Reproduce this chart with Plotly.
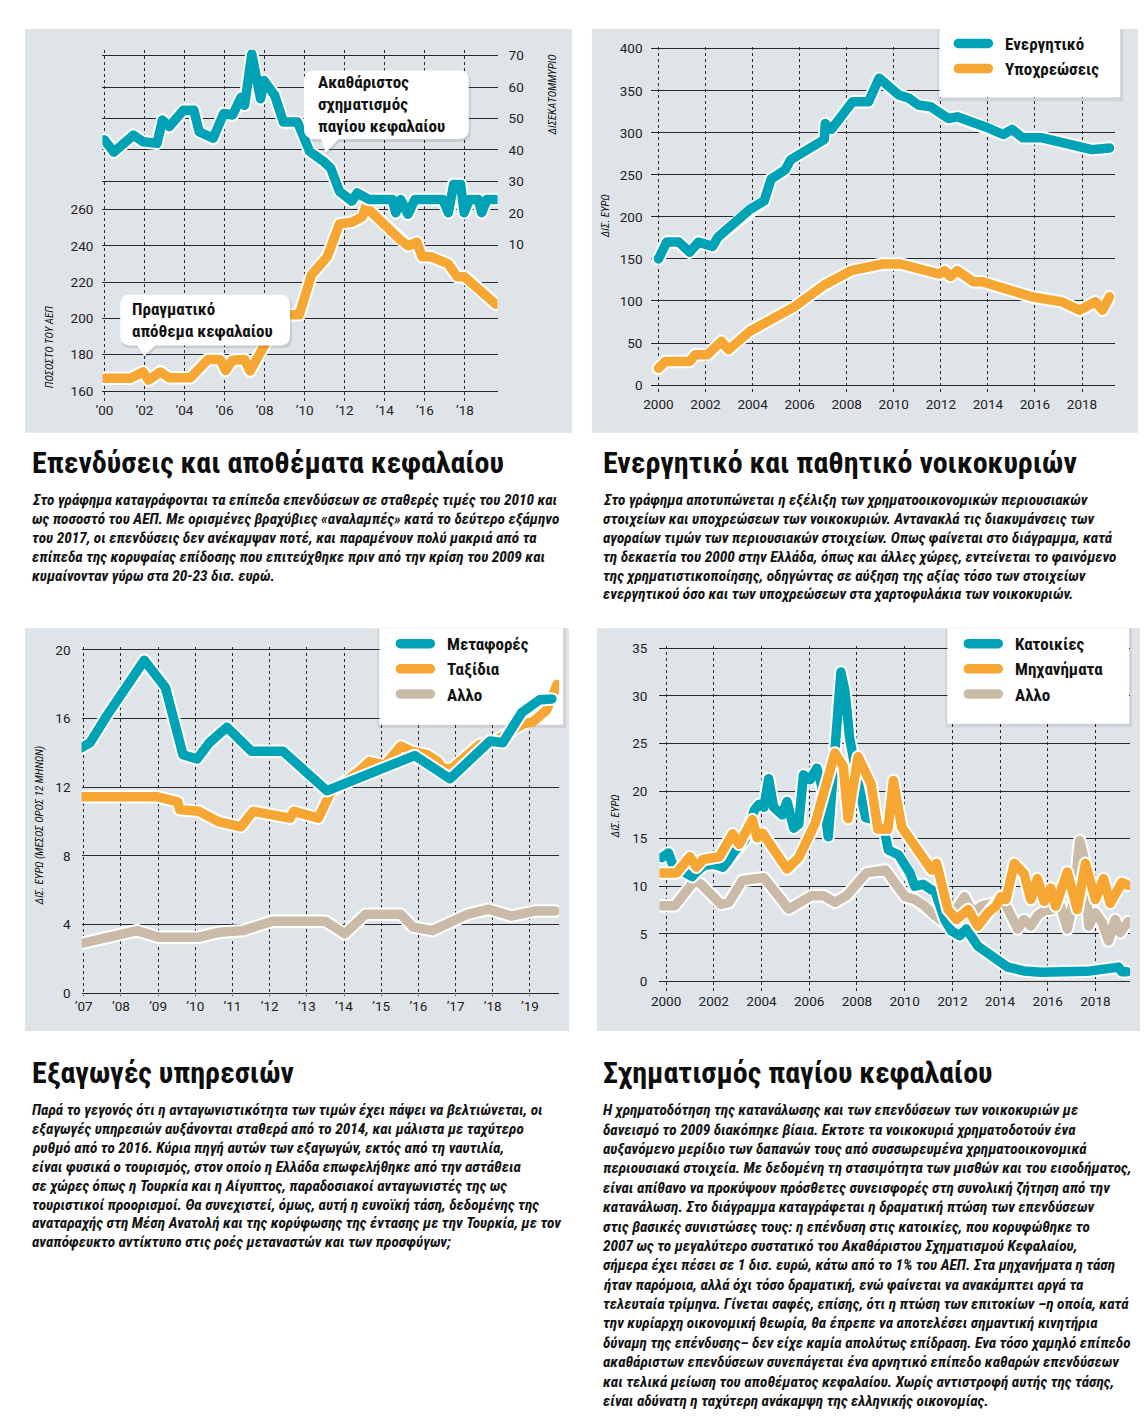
import plotly.graph_objects as go

# the page keeps the browser's 8px body margin, so the figure is 16px smaller
# than the window and all reference pixel positions are shifted by OFF
W, H = 1148, 1421
OFF = 8
FW, FH = W - 2 * OFF, H - 2 * OFF

# ---- chart 1: investment (bn, right axis) and capital stock (% of GDP, left axis)
inv_year = [2000.0, 2000.47, 2001.45, 2001.93, 2002.63, 2002.9, 2003.24, 2003.94, 2004.47, 2004.73,
            2005.43, 2005.96, 2006.4, 2006.83, 2007.0, 2007.36, 2007.8, 2007.97, 2008.5, 2008.94,
            2009.64, 2009.82, 2010.25, 2010.95, 2011.3, 2011.74, 2012.36, 2012.62, 2013.23, 2014.37,
            2014.55, 2014.8, 2015.16, 2015.5, 2016.9, 2017.17, 2017.44, 2017.79, 2017.96, 2018.23,
            2018.67, 2018.84, 2019.1, 2019.54]
inv_val = [43.2, 39.3, 44.7, 42.6, 42.1, 49.5, 47.4, 52.6, 52.6, 45.8,
           43.7, 51.6, 51.1, 56.8, 54.2, 70.5, 56.3, 62.1, 57.4, 48.9,
           48.9, 45.8, 39.5, 36.3, 34.2, 26.8, 23.7, 26.3, 24.2, 24.2,
           20.0, 24.2, 19.5, 24.2, 24.2, 20.0, 29.0, 29.0, 20.0, 24.2,
           24.2, 20.0, 24.2, 24.2]
cap_year = [2000.0, 2001.3, 2001.93, 2002.2, 2002.8, 2003.24, 2004.3, 2005.17, 2005.78, 2006.05,
            2006.4, 2007.0, 2007.27, 2007.97, 2008.85, 2009.73, 2010.34, 2011.13, 2011.74, 2012.36,
            2012.88, 2013.05, 2013.76, 2014.55, 2014.8, 2015.16, 2015.6, 2015.86, 2016.3, 2017.17,
            2017.61, 2017.96, 2018.31, 2019.54]
cap_val = [167, 167, 170.5, 166, 170.5, 167.3, 167.3, 177.4, 177.4, 171.3,
           177, 177.4, 171, 185.4, 202, 202, 224, 234, 252, 253,
           256, 261.5, 254, 244.3, 243, 240, 242, 234, 234, 230,
           223, 223, 220, 207.8]
c1_ticks = list(range(2000, 2019, 2))
c1_labels = ["’00", "’02", "’04", "’06", "’08", "’10", "’12", "’14", "’16", "’18"]
c1_left_ticks = [160, 180, 200, 220, 240, 260]
c1_right_ticks = [10, 20, 30, 40, 50, 60, 70]

# ---- chart 2: household assets / liabilities (bn euro)
asset_year = [2000.0, 2000.35, 2000.87, 2001.33, 2001.7, 2002.23, 2002.3, 2002.53, 2003.89, 2004.49,
              2004.79, 2005.39, 2005.62, 2007.05, 2007.09, 2007.35, 2008.25, 2008.93, 2009.38, 2010.21,
              2010.66, 2011.04, 2011.57, 2012.32, 2012.7, 2013.9, 2014.65, 2015.03, 2015.48, 2016.31,
              2017.06, 2017.82, 2018.42, 2019.17]
asset_val = [150, 170, 170, 158, 170, 168, 165, 176, 209, 219,
             245, 256, 268, 292, 311, 304, 337, 337, 365, 345,
             341, 333, 331, 317, 319, 307, 298, 304, 294, 294,
             290, 286, 280, 282]
liab_year = [2000.0, 2000.3, 2001.33, 2001.56, 2002.08, 2002.68, 2002.98, 2003.89, 2005.77, 2007.05,
             2008.18, 2009.53, 2010.29, 2011.94, 2012.17, 2012.4, 2012.7, 2013.37, 2013.75, 2015.1,
             2015.86, 2017.14, 2017.89, 2018.57, 2018.87, 2019.17]
liab_val = [20, 28, 28, 36, 36, 52, 42, 64, 93, 119,
            136, 144, 144, 132, 136, 129, 136, 123, 123, 111,
            105, 99, 89, 99, 89, 105]
c2_ticks = list(range(2000, 2019, 2))
c2_yticks = list(range(0, 401, 50))

# ---- chart 3: services exports (bn euro, 12-month average)
transport_year = [2006.93, 2007.17, 2007.6, 2008.07, 2008.63, 2009.2, 2009.67, 2010.05, 2010.38, 2010.85,
                  2011.51, 2012.36, 2012.98, 2013.31, 2013.54, 2015.9, 2016.85, 2017.93, 2018.27, 2018.78,
                  2019.26, 2019.59]
transport_val = [14.3, 14.6, 16.1, 17.7, 19.4, 17.8, 13.9, 13.65, 14.6, 15.5,
                 14.1, 14.1, 12.9, 12.3, 11.8, 13.85, 12.5, 14.7, 14.6, 16.35,
                 17.1, 17.15]
travel_year = [2006.93, 2008.96, 2009.53, 2009.58, 2010.1, 2010.62, 2011.23, 2011.56, 2012.55, 2012.65,
               2013.31, 2013.64, 2014.44, 2014.68, 2015.1, 2015.53, 2015.81, 2016.24, 2016.52, 2016.66,
               2016.9, 2017.65, 2017.98, 2018.83, 2019.07, 2019.45, 2019.73]
travel_val = [11.45, 11.45, 11.15, 10.7, 10.6, 10.0, 9.7, 10.6, 10.2, 10.6,
              10.2, 11.7, 13.0, 13.5, 13.3, 14.4, 14.1, 13.9, 13.5, 13.1,
              13.1, 14.5, 14.6, 15.7, 15.8, 16.5, 18.0]
other3_year = [2006.93, 2008.44, 2009.0, 2010.1, 2010.66, 2011.28, 2012.08, 2013.5, 2014.02, 2014.58,
               2015.53, 2015.86, 2016.38, 2017.32, 2017.89, 2018.5, 2019.16, 2019.68]
other3_val = [2.9, 3.65, 3.27, 3.27, 3.56, 3.65, 4.2, 4.2, 3.46, 4.6,
              4.6, 3.85, 3.65, 4.6, 4.9, 4.5, 4.8, 4.8]
c3_ticks = list(range(2007, 2020))
c3_labels = ["’07", "’08", "’09", "’10", "’11", "’12", "’13", "’14", "’15", "’16", "’17", "’18", "’19"]
c3_yticks = [0, 4, 8, 12, 16, 20]

# ---- chart 4: gross fixed capital formation (bn euro)
homes_year = [1999.82, 2000.1, 2000.3, 2000.7, 2001.1, 2001.27, 2001.6, 2002.03, 2002.38, 2002.58,
              2002.9, 2003.3, 2003.7, 2003.9, 2004.1, 2004.3, 2004.51, 2004.87, 2005.07, 2005.35,
              2005.56, 2005.76, 2006.04, 2006.32, 2006.53, 2006.8, 2007.33, 2007.5, 2007.7, 2008.0,
              2008.37, 2008.7, 2009.0, 2009.18, 2009.32, 2009.74, 2010.22, 2010.43, 2010.78, 2011.13,
              2011.27, 2011.68, 2011.96, 2012.31, 2012.59, 2013.07, 2013.35, 2013.76, 2014.32, 2015.01,
              2015.71, 2017.65, 2018.62, 2018.97, 2019.11, 2019.32]
homes_val = [13.0, 13.5, 12.1, 11.6, 11.0, 11.5, 12.2, 12.3, 12.0, 12.6,
             13.8, 14.8, 18.0, 18.6, 18.3, 21.3, 18.3, 17.5, 18.9, 16.1,
             16.5, 21.7, 21.2, 22.4, 20.5, 15.2, 32.5, 30.5, 25.5, 21.5,
             17.2, 17.0, 16.5, 15.5, 13.8, 13.3, 11.4, 10.0, 10.2, 9.6,
             9.5, 6.5, 5.3, 4.8, 5.5, 3.7, 3.2, 2.2, 1.5, 1.1,
             0.96, 1.05, 1.3, 1.5, 1.0, 1.0]
mach_year = [1999.82, 2000.44, 2001.0, 2001.27, 2001.55, 2002.24, 2002.79, 2003.07, 2003.62, 2003.82,
             2004.04, 2005.07, 2005.56, 2006.25, 2007.08, 2007.43, 2007.63, 2008.05, 2008.6, 2008.88,
             2009.3, 2009.53, 2009.88, 2010.16, 2011.13, 2011.34, 2011.82, 2012.17, 2012.66, 2013.07,
             2013.49, 2013.83, 2014.04, 2014.25, 2014.6, 2015.01, 2015.29, 2015.57, 2015.85, 2016.12,
             2016.33, 2016.82, 2017.24, 2017.58, 2018.0, 2018.34, 2018.62, 2019.11, 2019.38]
mach_val = [11.4, 11.4, 13.1, 12.0, 12.8, 13.1, 15.5, 14.4, 17.0, 15.1,
            15.6, 11.8, 13.0, 16.6, 24.0, 22.6, 17.1, 23.6, 20.7, 16.0,
            16.0, 21.1, 16.2, 15.2, 11.7, 12.4, 7.55, 6.5, 7.55, 5.8,
            7.2, 7.9, 8.9, 8.6, 12.4, 11.3, 8.6, 10.8, 8.4, 9.8,
            7.9, 11.5, 7.55, 12.4, 8.6, 10.8, 8.2, 10.4, 10.1]
other4_year = [1999.82, 2000.37, 2001.2, 2001.47, 2002.3, 2002.64, 2003.2, 2004.1, 2005.14, 2006.1,
               2006.6, 2007.08, 2007.57, 2008.4, 2009.2, 2010.02, 2010.43, 2010.85, 2011.27, 2011.75,
               2012.17, 2012.51, 2012.86, 2013.21, 2013.76, 2014.18, 2014.46, 2014.74, 2015.01, 2015.29,
               2015.57, 2015.85, 2016.19, 2016.54, 2016.82, 2017.09, 2017.34, 2017.51, 2017.72, 2018.0,
               2018.28, 2018.55, 2018.83, 2019.04, 2019.38]
other4_val = [7.95, 7.95, 10.6, 10.2, 8.1, 8.3, 10.6, 10.9, 7.6, 9.0,
              9.0, 8.3, 9.0, 11.4, 11.7, 8.9, 8.6, 7.9, 6.9, 6.0,
              7.55, 8.9, 7.2, 7.9, 8.25, 8.4, 6.9, 5.5, 6.5, 5.8,
              6.9, 7.4, 7.55, 7.9, 5.5, 8.6, 14.8, 13.1, 5.8, 7.2,
              6.2, 4.25, 6.5, 5.1, 6.3]
c4_ticks = list(range(2000, 2019, 2))
c4_yticks = list(range(0, 36, 5))

# ---- texts
title1 = "Επενδύσεις και αποθέματα κεφαλαίου"
body1 = [
    "Στο γράφημα καταγράφονται τα επίπεδα επενδύσεων σε σταθερές τιμές του 2010 και",
    "ως ποσοστό του ΑΕΠ. Με ορισμένες βραχύβιες «αναλαμπές» κατά το δεύτερο εξάμηνο",
    "του 2017, οι επενδύσεις δεν ανέκαμψαν ποτέ, και παραμένουν πολύ μακριά από τα",
    "επίπεδα της κορυφαίας επίδοσης που επιτεύχθηκε πριν από την κρίση του 2009 και",
    "κυμαίνονταν γύρω στα 20-23 δισ. ευρώ.",
]
title2 = "Ενεργητικό και παθητικό νοικοκυριών"
body2 = [
    "Στο γράφημα αποτυπώνεται η εξέλιξη των χρηματοοικονομικών περιουσιακών",
    "στοιχείων και υποχρεώσεων των νοικοκυριών. Αντανακλά τις διακυμάνσεις των",
    "αγοραίων τιμών των περιουσιακών στοιχείων. Οπως φαίνεται στο διάγραμμα, κατά",
    "τη δεκαετία του 2000 στην Ελλάδα, όπως και άλλες χώρες, εντείνεται το φαινόμενο",
    "της χρηματιστικοποίησης, οδηγώντας σε αύξηση της αξίας τόσο των στοιχείων",
    "ενεργητικού όσο και των υποχρεώσεων στα χαρτοφυλάκια των νοικοκυριών.",
]
title3 = "Εξαγωγές υπηρεσιών"
body3 = [
    "Παρά το γεγονός ότι η ανταγωνιστικότητα των τιμών έχει πάψει να βελτιώνεται, οι",
    "εξαγωγές υπηρεσιών αυξάνονται σταθερά από το 2014, και μάλιστα με ταχύτερο",
    "ρυθμό από το 2016. Κύρια πηγή αυτών των εξαγωγών, εκτός από τη ναυτιλία,",
    "είναι φυσικά ο τουρισμός, στον οποίο η Ελλάδα επωφελήθηκε από την αστάθεια",
    "σε χώρες όπως η Τουρκία και η Αίγυπτος, παραδοσιακοί ανταγωνιστές της ως",
    "τουριστικοί προορισμοί. Θα συνεχιστεί, όμως, αυτή η ευνοϊκή τάση, δεδομένης της",
    "αναταραχής στη Μέση Ανατολή και της κορύφωσης της έντασης με την Τουρκία, με τον",
    "αναπόφευκτο αντίκτυπο στις ροές μεταναστών και των προσφύγων;",
]
title4 = "Σχηματισμός παγίου κεφαλαίου"
body4 = [
    "Η χρηματοδότηση της κατανάλωσης και των επενδύσεων των νοικοκυριών με",
    "δανεισμό το 2009 διακόπηκε βίαια. Εκτοτε τα νοικοκυριά χρηματοδοτούν ένα",
    "αυξανόμενο μερίδιο των δαπανών τους από συσσωρευμένα χρηματοοικονομικά",
    "περιουσιακά στοιχεία. Με δεδομένη τη στασιμότητα των μισθών και του εισοδήματος,",
    "είναι απίθανο να προκύψουν πρόσθετες συνεισφορές στη συνολική ζήτηση από την",
    "κατανάλωση. Στο διάγραμμα καταγράφεται η δραματική πτώση των επενδύσεων",
    "στις βασικές συνιστώσες τους: η επένδυση στις κατοικίες, που κορυφώθηκε το",
    "2007 ως το μεγαλύτερο συστατικό του Ακαθάριστου Σχηματισμού Κεφαλαίου,",
    "σήμερα έχει πέσει σε 1 δισ. ευρώ, κάτω από το 1% του ΑΕΠ. Στα μηχανήματα η τάση",
    "ήταν παρόμοια, αλλά όχι τόσο δραματική, ενώ φαίνεται να ανακάμπτει αργά τα",
    "τελευταία τρίμηνα. Γίνεται σαφές, επίσης, ότι η πτώση των επιτοκίων –η οποία, κατά",
    "την κυρίαρχη οικονομική θεωρία, θα έπρεπε να αποτελέσει σημαντική κινητήρια",
    "δύναμη της επένδυσης– δεν είχε καμία απολύτως επίδραση. Ενα τόσο χαμηλό επίπεδο",
    "ακαθάριστων επενδύσεων συνεπάγεται ένα αρνητικό επίπεδο καθαρών επενδύσεων",
    "και τελικά μείωση του αποθέματος κεφαλαίου. Χωρίς αντιστροφή αυτής της τάσης,",
    "είναι αδύνατη η ταχύτερη ανάκαμψη της ελληνικής οικονομίας.",
]

FONT = "Liberation Sans Narrow, Arial Narrow, Roboto Condensed, DejaVu Sans Condensed, sans-serif"
TICKFONT = dict(family="Roboto, Liberation Sans, sans-serif", size=13.5, color="#222")
TEAL, ORANGE, BEIGE = "#00a3b5", "#f6a733", "#c9bba8"
PANEL = "#dfe4e8"
GRID = "#2a2a2a"
PAD = "\u00a0\u00a0\u00a0"


def fx(p):
    return (p - OFF) / FW


def fy(p):
    return 1 - (p - OFF) / FH


def scale(v0, p0, v1, p1):
    # pixel -> value for an axis calibrated on two labelled positions
    k = (v1 - v0) / (p1 - p0)
    return lambda p: v0 + (p - p0) * k


def pix(v0, p0, v1, p1):
    k = (p1 - p0) / (v1 - v0)
    return lambda v: p0 + (v - v0) * k


X1 = scale(2000, 97, 2018, 460.1)
Y1 = scale(160, 388, 260, 205)
Y1R = scale(10, 240, 70, 50)
P1R = pix(10, 240, 70, 50)
X2 = scale(2000, 655, 2018, 1081.6)
Y2 = scale(0, 382, 400, 43)
X3 = scale(2007, 76.2, 2019, 525.6)
Y3 = scale(0, 995, 20, 649)
X4 = scale(2000, 662.7, 2018, 1095.1)
Y4 = scale(0, 983, 35, 647.3)

fig = go.Figure()


def add_series(xs, ys, color, xa, ya, name=None, legend=None, rank=None):
    fig.add_trace(go.Scatter(x=xs, y=ys, mode="lines", xaxis=xa, yaxis=ya,
                             line=dict(color="white", width=13.5), showlegend=False, hoverinfo="skip"))
    fig.add_trace(go.Scatter(x=xs, y=ys, mode="lines", xaxis=xa, yaxis=ya,
                             name=(PAD + name) if name else None,
                             line=dict(color=color, width=9.5),
                             showlegend=legend is not None, legend=legend or "legend",
                             legendrank=rank or 1000))


add_series(inv_year, inv_val, TEAL, "x", "y2")
add_series(cap_year, cap_val, ORANGE, "x", "y")
add_series(liab_year, liab_val, ORANGE, "x2", "y3", "Υποχρεώσεις", "legend2", 2)
add_series(asset_year, asset_val, TEAL, "x2", "y3", "Ενεργητικό", "legend2", 1)
add_series(other3_year, other3_val, BEIGE, "x3", "y4", "Αλλο", "legend3", 3)
add_series(travel_year, travel_val, ORANGE, "x3", "y4", "Ταξίδια", "legend3", 2)
add_series(transport_year, transport_val, TEAL, "x3", "y4", "Μεταφορές", "legend3", 1)
add_series(other4_year, other4_val, BEIGE, "x4", "y5", "Αλλο", "legend4", 3)
add_series(homes_year, homes_val, TEAL, "x4", "y5", "Κατοικίες", "legend4", 1)
add_series(mach_year, mach_val, ORANGE, "x4", "y5", "Μηχανήματα", "legend4", 2)


def xaxis(left, right, X, vals, text, anchor):
    return dict(domain=[fx(left), fx(right)], range=[X(left), X(right)], anchor=anchor,
                tickmode="array", tickvals=vals, ticktext=text, ticks="", showline=False,
                zeroline=False, showgrid=True, gridcolor=GRID, griddash="dot", gridwidth=1,
                tickfont=TICKFONT, fixedrange=True)


def yaxis(top, bottom, Y, vals, text, anchor, standoff):
    return dict(domain=[fy(bottom), fy(top)], range=[Y(bottom), Y(top)], anchor=anchor,
                tickmode="array", tickvals=vals, ticktext=text, ticks="", showline=False,
                zeroline=False, showgrid=True, gridcolor=GRID, gridwidth=1,
                tickfont=TICKFONT, ticklabelstandoff=standoff, fixedrange=True)


# left axis of chart 1 also carries the grid lines of the right-hand scale
c1_grid_extra = [Y1(P1R(v)) for v in c1_right_ticks[2:]]
ax1y = yaxis(44, 398, Y1, c1_left_ticks + c1_grid_extra,
             [str(v) for v in c1_left_ticks] + [""] * len(c1_grid_extra), "x", 8)
ax1y2 = yaxis(44, 398, Y1R, c1_right_ticks, [str(v) for v in c1_right_ticks], "x", 10)
ax1y2.update(overlaying="y", side="right", showgrid=False)

legend_style = dict(xanchor="left", yanchor="top", bgcolor="rgba(0,0,0,0)", borderwidth=0,
                    font=dict(family=FONT, size=17, color="#111", weight="bold"), itemwidth=30,
                    tracegroupgap=0, orientation="v")

fig.update_layout(
    width=FW, height=FH, margin=dict(l=0, r=0, t=0, b=0),
    paper_bgcolor="white", plot_bgcolor="rgba(0,0,0,0)",
    font=dict(family=FONT, color="#222"),
    xaxis=xaxis(95, 493, X1, c1_ticks, c1_labels, "y"),
    yaxis=ax1y, yaxis2=ax1y2,
    xaxis2=xaxis(648, 1115, X2, c2_ticks, [str(v) for v in c2_ticks], "y3"),
    yaxis3=yaxis(41, 392, Y2, c2_yticks, [str(v) for v in c2_yticks], "x2", 8),
    xaxis3=xaxis(74, 555, X3, c3_ticks, c3_labels, "y4"),
    yaxis4=yaxis(646, 998, Y3, c3_yticks, [str(v) for v in c3_yticks], "x3", 10),
    xaxis4=xaxis(656, 1130, X4, c4_ticks, [str(v) for v in c4_ticks], "y5"),
    yaxis5=yaxis(645, 993, Y4, c4_yticks, [str(v) for v in c4_yticks], "x4", 11),
    showlegend=True,
    legend2=dict(legend_style, x=fx(952), y=fy(20)),
    legend3=dict(legend_style, x=fx(390), y=fy(625)),
    legend4=dict(legend_style, x=fx(962), y=fy(625)),
)

shapes = []
# grey chart panels
for x0, y0, x1, y1 in [(17, 23, 568, 430), (588, 23, 1138, 430), (17, 627, 565, 1033), (593, 627, 1140, 1033)]:
    shapes.append(dict(type="rect", xref="paper", yref="paper", layer="below",
                       x0=fx(x0), x1=fx(x1), y0=fy(y1), y1=fy(y0), fillcolor=PANEL, line_width=0))
# white legend boxes: soft shadow + paper part + part that hides the grid but stays under the lines
for (x0, y0, x1, y1), xa, ya, X, Y in [((938, 23, 1120, 92), "x2", "y3", X2, Y2),
                                       ((374, 627, 559, 724), "x3", "y4", X3, Y3),
                                       ((946, 627, 1129, 723), "x4", "y5", X4, Y4)]:
    shapes.append(dict(type="rect", xref="paper", yref="paper", layer="below",
                       x0=fx(x0 - 2), x1=fx(x1 + 3), y0=fy(y1 + 4), y1=fy(y0),
                       fillcolor="rgba(0,0,0,0.07)", line_width=0))
    shapes.append(dict(type="rect", xref="paper", yref="paper", layer="below",
                       x0=fx(x0), x1=fx(x1), y0=fy(y1), y1=fy(y0), fillcolor="white", line_width=0))
    shapes.append(dict(type="rect", xref=xa, yref=ya, layer="between",
                       x0=X(x0), x1=X(x1), y0=Y(y1), y1=Y(y0), fillcolor="white", line_width=0))


def bubble(x0, y0, x1, y1, r, bx0, bx1, tx, ty):
    pts = [("M", x0 + r, y0), ("L", x1 - r, y0), ("Q", x1, y0, x1, y0 + r), ("L", x1, y1 - r),
           ("Q", x1, y1, x1 - r, y1), ("L", bx1, y1), ("L", tx, ty), ("L", bx0, y1),
           ("L", x0 + r, y1), ("Q", x0, y1, x0, y1 - r), ("L", x0, y0 + r), ("Q", x0, y0, x0 + r, y0)]
    out = []
    for p in pts:
        cmd, coords = p[0], p[1:]
        xy = []
        for i in range(0, len(coords), 2):
            xy.append("%.5f,%.5f" % (fx(coords[i]), fy(coords[i + 1])))
        out.append(cmd + " " + " ".join(xy))
    return " ".join(out) + " Z"


for args in [(298, 65, 464, 134, 10, 315, 333, 320, 148), (113, 291, 284, 342, 10, 130, 148, 137, 353)]:
    sh = list(args)
    shadow = [sh[0] + 1, sh[1] + 2, sh[2] + 2, sh[3] + 3, sh[4], sh[5] + 1, sh[6] + 1, sh[7] + 1, sh[8] + 2]
    shapes.append(dict(type="path", xref="paper", yref="paper", layer="above", path=bubble(*shadow),
                       fillcolor="rgba(0,0,0,0.10)", line_width=0))
    shapes.append(dict(type="path", xref="paper", yref="paper", layer="above", path=bubble(*sh),
                       fillcolor="white", line_width=0))
fig.update_layout(shapes=shapes)

ann = []


def text(x, y, s, size, color="#111", bold=False, italic=False, angle=0, anchor="left"):
    ann.append(dict(x=fx(x), y=fy(y), xref="paper", yref="paper", text=s, showarrow=False,
                    xanchor=anchor, yanchor="middle", textangle=angle, align="left",
                    font=dict(family=FONT, size=size, color=color,
                              weight="bold" if bold else "normal",
                              style="italic" if italic else "normal")))


# callouts in chart 1
text(310, 99, "Ακαθάριστος<br>σχηματισμός<br>παγίου κεφαλαίου", 17, bold=True)
text(123, 316, "Πραγματικό<br>απόθεμα κεφαλαίου", 17, bold=True)

# axis titles
text(548, 89, "ΔΙΣΕΚΑΤΟΜΜΥΡΙΟ", 11, italic=True, angle=-90, anchor="center")
text(42, 344, "ΠΟΣΟΣΤΟ ΤΟΥ ΑΕΠ", 11, italic=True, angle=-90, anchor="center")
text(602, 212, "ΔΙΣ. ΕΥΡΩ", 11, italic=True, angle=-90, anchor="center")
text(32, 826, "ΔΙΣ. ΕΥΡΩ (ΜΕΣΟΣ ΟΡΟΣ 12 ΜΗΝΩΝ)", 11, italic=True, angle=-90, anchor="center")
text(612, 817, "ΔΙΣ. ΕΥΡΩ", 11, italic=True, angle=-90, anchor="center")

# headings and body copy
for x, y, title, body, step in [(22, 460, title1, body1, 19), (597, 460, title2, body2, 19),
                                (22, 1075, title3, body3, 19), (597, 1075, title4, body4, 19.53)]:
    text(x, y, title, 30, color="#0d0d0d", bold=True)
    for i, line in enumerate(body):
        text(x, y + 38 + i * step, line, 15.3, color="#111", bold=True, italic=True)

fig.update_layout(annotations=ann)

# plotly has no line-join option: round the joins and caps of the thick lines
post = """
var st = document.createElement('style');
st.textContent = '.scatterlayer .js-line, .legendlines path {stroke-linejoin: round; stroke-linecap: round;}';
document.head.appendChild(st);
"""
fig.write_html("out.html", post_script=post, config={"displayModeBar": False})
